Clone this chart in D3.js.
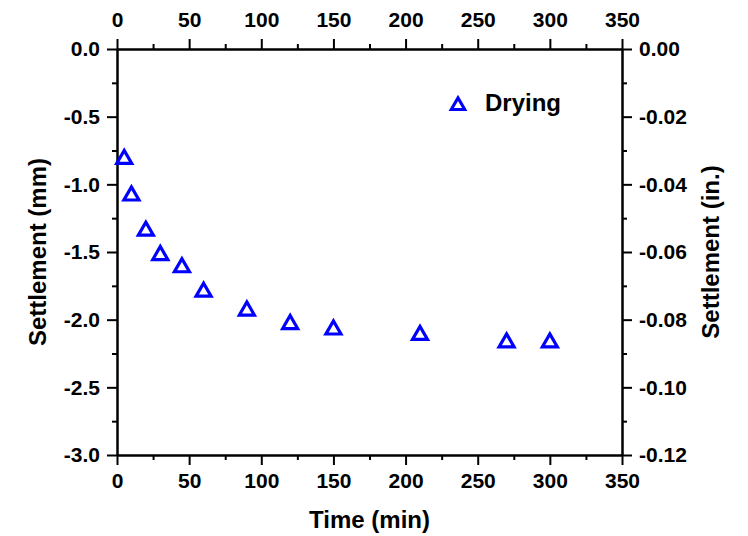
<!DOCTYPE html>
<html>
<head>
<meta charset="utf-8">
<script src="https://cdn.jsdelivr.net/npm/d3@7"></script>
<style>
  body { margin: 0; background: #fff; }
  text { font-family: "Liberation Sans", Arial, sans-serif; font-weight: bold; fill: #000; }
</style>
</head>
<body>
<svg id="chart"></svg>
<script>
'use strict';

var time_min = [5, 10, 20, 30, 45, 60, 90, 120, 150, 210, 270, 300];
var settlement_mm = [-0.80, -1.07, -1.33, -1.51, -1.60, -1.78, -1.92, -2.02, -2.06, -2.10, -2.155, -2.155];
var series_name = 'Drying';

var x_ticks = [0, 50, 100, 150, 200, 250, 300, 350];
var x_minor = [25, 75, 125, 175, 225, 275, 325];
var y_ticks = [0, -0.5, -1.0, -1.5, -2.0, -2.5, -3.0];
var y_minor = [-0.25, -0.75, -1.25, -1.75, -2.25, -2.75];
var in_ticks = [0, -0.02, -0.04, -0.06, -0.08, -0.10, -0.12];
var in_minor = [-0.01, -0.03, -0.05, -0.07, -0.09, -0.11];

var width = 748, height = 536;
var plot_left = 117, plot_right = 622, plot_top = 49, plot_bottom = 455;

var svg = d3.select('#chart').attr('width', width).attr('height', height);

var x = d3.scaleLinear().domain([0, 350]).range([plot_left, plot_right]);
var y = d3.scaleLinear().domain([-3, 0]).range([plot_bottom, plot_top]);
var y_in = d3.scaleLinear().domain([-0.12, 0]).range([plot_bottom, plot_top]);

function fmt(n) {
    return function (d) { return d.toFixed(n); };
}

function styleAxis(g) {
    g.selectAll('path, line').attr('stroke', '#000').attr('stroke-width', 2);
    g.selectAll('text').style('font-size', '21px').attr('fill', '#000');
}

// major + minor ticks on all four sides
svg.append('g').attr('transform', 'translate(0,' + plot_bottom + ')')
    .call(d3.axisBottom(x).tickValues(x_ticks).tickFormat(fmt(0)).tickSize(10).tickSizeOuter(0).tickPadding(8))
    .call(styleAxis);
svg.append('g').attr('transform', 'translate(0,' + plot_bottom + ')')
    .call(d3.axisBottom(x).tickValues(x_minor).tickFormat('').tickSize(5).tickSizeOuter(0))
    .call(styleAxis);

svg.append('g').attr('transform', 'translate(0,' + plot_top + ')')
    .call(d3.axisTop(x).tickValues(x_ticks).tickFormat(fmt(0)).tickSize(10).tickSizeOuter(0).tickPadding(12))
    .call(styleAxis);
svg.append('g').attr('transform', 'translate(0,' + plot_top + ')')
    .call(d3.axisTop(x).tickValues(x_minor).tickFormat('').tickSize(5).tickSizeOuter(0))
    .call(styleAxis);

svg.append('g').attr('transform', 'translate(' + plot_left + ',0)')
    .call(d3.axisLeft(y).tickValues(y_ticks).tickFormat(fmt(1)).tickSize(10).tickSizeOuter(0).tickPadding(7))
    .call(styleAxis);
svg.append('g').attr('transform', 'translate(' + plot_left + ',0)')
    .call(d3.axisLeft(y).tickValues(y_minor).tickFormat('').tickSize(5).tickSizeOuter(0))
    .call(styleAxis);

svg.append('g').attr('transform', 'translate(' + plot_right + ',0)')
    .call(d3.axisRight(y_in).tickValues(in_ticks).tickFormat(fmt(2)).tickSize(10).tickSizeOuter(0).tickPadding(7))
    .call(styleAxis);
svg.append('g').attr('transform', 'translate(' + plot_right + ',0)')
    .call(d3.axisRight(y_in).tickValues(in_minor).tickFormat('').tickSize(5).tickSizeOuter(0))
    .call(styleAxis);

// axis titles
svg.append('text').attr('x', (plot_left + plot_right) / 2).attr('y', 528)
    .attr('text-anchor', 'middle').style('font-size', '24px').text('Time (min)');
svg.append('text').attr('transform', 'translate(46,' + (plot_top + plot_bottom) / 2 + ') rotate(-90)')
    .attr('text-anchor', 'middle').style('font-size', '24px').text('Settlement (mm)');
svg.append('text').attr('transform', 'translate(719,' + (plot_top + plot_bottom) / 2 + ') rotate(-90)')
    .attr('text-anchor', 'middle').style('font-size', '24px').text('Settlement (in.)');

// open triangle markers
var tri = 'M-7.5,6.2L7.5,6.2L0,-6.8Z';

svg.append('g').selectAll('path').data(time_min).enter().append('path')
    .attr('d', tri)
    .attr('transform', function (d, i) {
        return 'translate(' + x(d) + ',' + y(settlement_mm[i]) + ')';
    })
    .attr('fill', 'none').attr('stroke', '#0000ff').attr('stroke-width', 3.2)
    .attr('stroke-linejoin', 'miter');

// legend
svg.append('path').attr('d', tri).attr('transform', 'translate(458,104) scale(0.9)')
    .attr('fill', 'none').attr('stroke', '#0000ff').attr('stroke-width', 3.4);
svg.append('text').attr('x', 485).attr('y', 111).style('font-size', '24px').text(series_name);
</script>
</body>
</html>
